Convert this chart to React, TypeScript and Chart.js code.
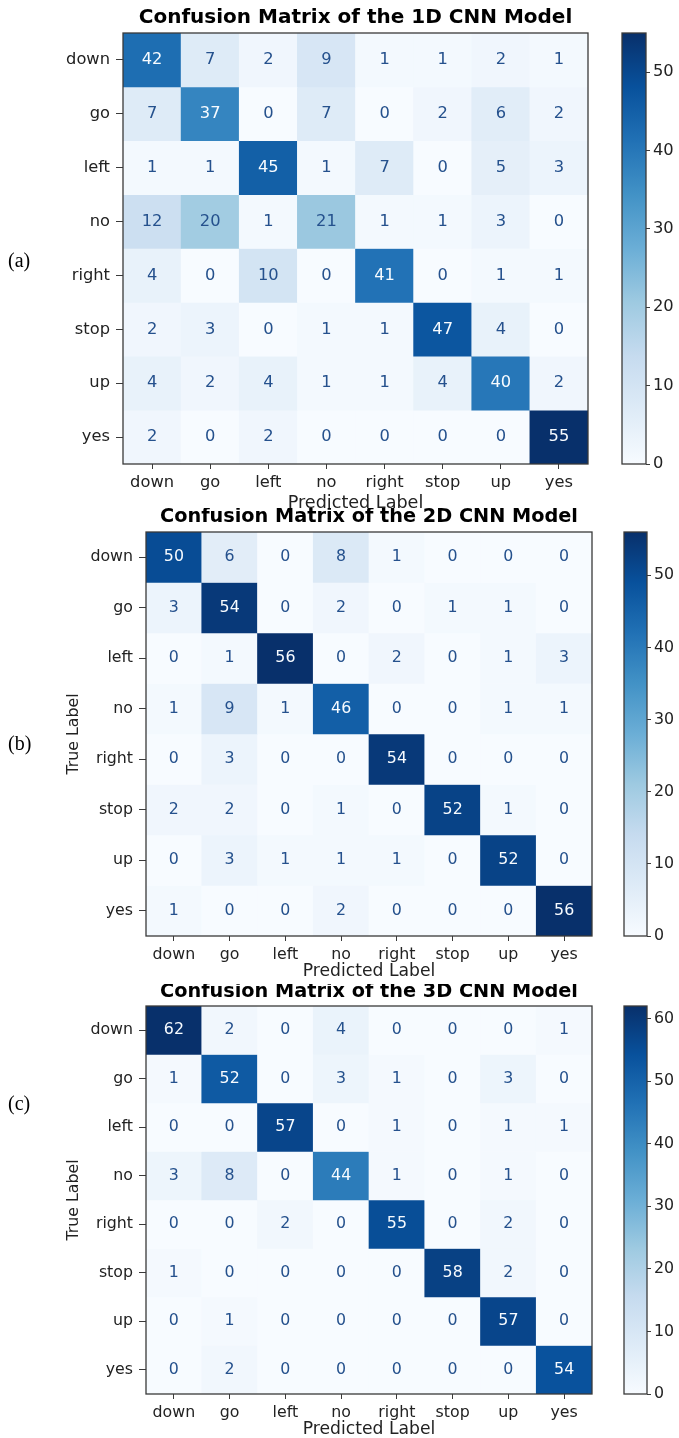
import React, { useEffect, useRef } from 'react';
import { Chart, registerables } from 'chart.js';

Chart.register(...registerables);

// ---------------- DATA ----------------
const predictedLabels = ['down', 'go', 'left', 'no', 'right', 'stop', 'up', 'yes'];
const trueLabels = ['down', 'go', 'left', 'no', 'right', 'stop', 'up', 'yes'];

const titles = [
  'Confusion Matrix of the 1D CNN Model',
  'Confusion Matrix of the 2D CNN Model',
  'Confusion Matrix of the 3D CNN Model',
];
const panelTags = ['(a)', '(b)', '(c)'];
const xAxisTitle = 'Predicted Label';
const yAxisTitle = 'True Label';

// rows = true label, columns = predicted label
const cm1D = [
  [42, 7, 2, 9, 1, 1, 2, 1],
  [7, 37, 0, 7, 0, 2, 6, 2],
  [1, 1, 45, 1, 7, 0, 5, 3],
  [12, 20, 1, 21, 1, 1, 3, 0],
  [4, 0, 10, 0, 41, 0, 1, 1],
  [2, 3, 0, 1, 1, 47, 4, 0],
  [4, 2, 4, 1, 1, 4, 40, 2],
  [2, 0, 2, 0, 0, 0, 0, 55],
];
const cm2D = [
  [50, 6, 0, 8, 1, 0, 0, 0],
  [3, 54, 0, 2, 0, 1, 1, 0],
  [0, 1, 56, 0, 2, 0, 1, 3],
  [1, 9, 1, 46, 0, 0, 1, 1],
  [0, 3, 0, 0, 54, 0, 0, 0],
  [2, 2, 0, 1, 0, 52, 1, 0],
  [0, 3, 1, 1, 1, 0, 52, 0],
  [1, 0, 0, 2, 0, 0, 0, 56],
];
const cm3D = [
  [62, 2, 0, 4, 0, 0, 0, 1],
  [1, 52, 0, 3, 1, 0, 3, 0],
  [0, 0, 57, 0, 1, 0, 1, 1],
  [3, 8, 0, 44, 1, 0, 1, 0],
  [0, 0, 2, 0, 55, 0, 2, 0],
  [1, 0, 0, 0, 0, 58, 2, 0],
  [0, 1, 0, 0, 0, 0, 57, 0],
  [0, 2, 0, 0, 0, 0, 0, 54],
];

const cbTicks1D = [0, 10, 20, 30, 40, 50];
const cbTicks2D = [0, 10, 20, 30, 40, 50];
const cbTicks3D = [0, 10, 20, 30, 40, 50, 60];

// matplotlib "Blues" colormap stops
const bluesStops = ['#f7fbff', '#deebf7', '#c6dbef', '#9ecae1', '#6baed6', '#4292c6', '#2171b5', '#08519c', '#08306b'];

// ---------------- LAYOUT / STYLE ----------------
const FONT = '"DejaVu Sans", Verdana, sans-serif';
const SERIF = '"Liberation Serif", "Times New Roman", serif';
const MATRIX_W = 600;
const CB_X = 600;
const Y_AXIS_W = 60;
const X_AXIS_H = 30;

const layouts = [
  { bandTop: 0, bandH: 508, L: 123, R: 588, T: 33, B: 464, cbL: 622, cbR: 646, titleY: 18, titleSize: 20,
    tickSize: 16.3, tagY: 262, predY: 503, predSize: 17.6, showTrue: false, trueX: 74 },
  { bandTop: 508, bandH: 476, L: 146, R: 592, T: 532, B: 936, cbL: 624, cbR: 647, titleY: 517, titleSize: 19.3,
    tickSize: 15.8, tagY: 745, predY: 972, predSize: 17.2, showTrue: true, trueX: 74 },
  { bandTop: 984, bandH: 454, L: 146, R: 592, T: 1006, B: 1394, cbL: 624, cbR: 647, titleY: 992, titleSize: 19.3,
    tickSize: 15.8, tagY: 1105, predY: 1430, predSize: 17.2, showTrue: true, trueX: 74 },
];
const matrices = [cm1D, cm2D, cm3D];
const cbTicks = [cbTicks1D, cbTicks2D, cbTicks3D];

function hexToRgb(h: string) {
  const n = parseInt(h.slice(1), 16);
  return [(n >> 16) & 255, (n >> 8) & 255, n & 255];
}
function blues(t: number) {
  const tt = Math.max(0, Math.min(1, t));
  const pos = tt * (bluesStops.length - 1);
  const i = Math.min(bluesStops.length - 2, Math.floor(pos));
  const f = pos - i;
  const a = hexToRgb(bluesStops[i]);
  const b = hexToRgb(bluesStops[i + 1]);
  const c = a.map((v, k) => Math.round(v + (b[k] - v) * f));
  return `rgb(${c[0]},${c[1]},${c[2]})`;
}

const TEXT_DARK = '#25518d';
const TEXT_LIGHT = '#f7fbff';
const AXIS_COLOR = '#222';
const FRAME_COLOR = '#3a3a3a';

function Panel({ idx }: { idx: number }) {
  const mRef = useRef<HTMLCanvasElement | null>(null);
  const cRef = useRef<HTMLCanvasElement | null>(null);
  const lay = layouts[idx];
  const matrix = matrices[idx];

  useEffect(() => {
    const maxV = Math.max(...matrix.flat());
    const minV = Math.min(...matrix.flat());
    const thresh = (maxV + minV) / 2;
    const top = lay.bandTop;

    const matrixPlugin = {
      id: 'matrixText' + idx,
      afterDatasetsDraw(chart: any) {
        const { ctx, chartArea } = chart;
        const xs = chart.scales.x;
        const ys = chart.scales.y;
        ctx.save();
        ctx.font = `${lay.tickSize}px ${FONT}`;
        ctx.textAlign = 'center';
        ctx.textBaseline = 'middle';
        matrix.forEach((row, r) => {
          row.forEach((v, c) => {
            ctx.fillStyle = v > thresh ? TEXT_LIGHT : TEXT_DARK;
            ctx.fillText(String(v), xs.getPixelForValue(c), ys.getPixelForValue(r + 0.5));
          });
        });
        ctx.strokeStyle = FRAME_COLOR;
        ctx.lineWidth = 1.3;
        ctx.strokeRect(chartArea.left, chartArea.top, chartArea.right - chartArea.left, chartArea.bottom - chartArea.top);
        ctx.restore();
      },
      afterDraw(chart: any) {
        const { ctx, chartArea } = chart;
        const cx = (chartArea.left + chartArea.right) / 2;
        ctx.save();
        ctx.textBaseline = 'middle';
        ctx.textAlign = 'center';
        ctx.fillStyle = '#000';
        ctx.font = `bold ${lay.titleSize}px ${FONT}`;
        ctx.fillText(titles[idx], cx, lay.titleY - top);
        ctx.fillStyle = AXIS_COLOR;
        ctx.font = `${lay.predSize}px ${FONT}`;
        ctx.fillText(xAxisTitle, cx, lay.predY - top);
        if (lay.showTrue) {
          ctx.save();
          ctx.translate(lay.trueX, (chartArea.top + chartArea.bottom) / 2);
          ctx.rotate(-Math.PI / 2);
          ctx.font = `${lay.tickSize}px ${FONT}`;
          ctx.fillText(yAxisTitle, 0, 0);
          ctx.restore();
        }
        ctx.fillStyle = '#000';
        ctx.textAlign = 'left';
        ctx.font = `20px ${SERIF}`;
        ctx.fillText(panelTags[idx], 8, lay.tagY - top);
        ctx.restore();
      },
    };

    const tickFont = { family: FONT, size: lay.tickSize };

    const chart = new Chart(mRef.current as HTMLCanvasElement, {
      type: 'bar',
      data: {
        labels: predictedLabels,
        datasets: trueLabels.map((lab, r) => ({
          label: lab,
          data: matrix[r].map(() => 1),
          backgroundColor: matrix[r].map((v) => blues((v - minV) / (maxV - minV))),
          borderWidth: 0,
          barPercentage: 1,
          categoryPercentage: 1,
        })),
      },
      options: {
        responsive: false,
        animation: false,
        devicePixelRatio: 1,
        events: [],
        layout: {
          padding: {
            left: lay.L - Y_AXIS_W,
            right: MATRIX_W - lay.R,
            top: lay.T - top,
            bottom: lay.bandH - (lay.B - top) - X_AXIS_H,
          },
        },
        plugins: { legend: { display: false }, tooltip: { enabled: false }, title: { display: false } },
        scales: {
          x: {
            type: 'category',
            stacked: true,
            offset: true,
            afterFit: (s: any) => { s.height = X_AXIS_H; },
            grid: { display: true, offset: false, drawOnChartArea: false, drawTicks: true, tickLength: 5, color: FRAME_COLOR, lineWidth: 1 },
            border: { display: false },
            ticks: { font: tickFont, color: AXIS_COLOR, padding: 4, maxRotation: 0, autoSkip: false },
          },
          y: {
            type: 'linear',
            stacked: true,
            reverse: true,
            min: 0,
            max: trueLabels.length,
            afterFit: (s: any) => { s.width = Y_AXIS_W; },
            afterBuildTicks: (s: any) => { s.ticks = trueLabels.map((_, i) => ({ value: i + 0.5 })); },
            grid: { display: true, drawOnChartArea: false, drawTicks: true, tickLength: 7, color: FRAME_COLOR, lineWidth: 1 },
            border: { display: false },
            ticks: {
              font: tickFont,
              color: AXIS_COLOR,
              padding: 6,
              autoSkip: false,
              callback: (_v: any, i: number) => trueLabels[i],
            },
          },
        },
      },
      plugins: [matrixPlugin],
    } as any);

    const cbPlugin = {
      id: 'cbFrame' + idx,
      afterDatasetsDraw(c: any) {
        const { ctx, chartArea } = c;
        ctx.save();
        ctx.strokeStyle = FRAME_COLOR;
        ctx.lineWidth = 1.3;
        ctx.strokeRect(chartArea.left, chartArea.top, chartArea.right - chartArea.left, chartArea.bottom - chartArea.top);
        ctx.restore();
      },
    };

    const cb = new Chart(cRef.current as HTMLCanvasElement, {
      type: 'bar',
      data: {
        labels: ['scale'],
        datasets: [{
          data: [maxV],
          borderWidth: 0,
          barPercentage: 1,
          categoryPercentage: 1,
          backgroundColor: (context: any) => {
            const ca = context.chart.chartArea;
            if (!ca) return bluesStops[4];
            const g = context.chart.ctx.createLinearGradient(0, ca.bottom, 0, ca.top);
            bluesStops.forEach((s, i) => g.addColorStop(i / (bluesStops.length - 1), s));
            return g;
          },
        }],
      },
      options: {
        responsive: false,
        animation: false,
        devicePixelRatio: 1,
        events: [],
        layout: {
          padding: {
            left: lay.cbL - CB_X,
            right: 0,
            top: lay.T - top,
            bottom: lay.bandH - (lay.B - top),
          },
        },
        plugins: { legend: { display: false }, tooltip: { enabled: false } },
        scales: {
          x: { display: false },
          y: {
            position: 'right',
            min: minV,
            max: maxV,
            afterFit: (s: any) => { s.width = 679 - lay.cbR; },
            afterBuildTicks: (s: any) => { s.ticks = cbTicks[idx].map((v) => ({ value: v })); },
            grid: { display: true, drawOnChartArea: false, drawTicks: true, tickLength: 4, color: FRAME_COLOR },
            border: { display: false },
            ticks: { font: tickFont, color: AXIS_COLOR, padding: 3, autoSkip: false },
          },
        },
      },
      plugins: [cbPlugin],
    } as any);

    return () => {
      chart.destroy();
      cb.destroy();
    };
  }, []);

  return (
    <div style={{ position: 'absolute', left: 0, top: lay.bandTop, width: 679, height: lay.bandH, background: '#fff', overflow: 'hidden' }}>
      <canvas ref={mRef} width={MATRIX_W} height={lay.bandH}
        style={{ position: 'absolute', left: 0, top: 0, width: MATRIX_W, height: lay.bandH }} />
      <canvas ref={cRef} width={679 - CB_X} height={lay.bandH}
        style={{ position: 'absolute', left: CB_X, top: 0, width: 679 - CB_X, height: lay.bandH }} />
    </div>
  );
}

export default function App() {
  return (
    <div style={{ position: 'absolute', left: 0, top: 0, width: 679, height: 1438, background: '#fff', overflow: 'hidden' }}>
      <Panel idx={0} />
      <Panel idx={1} />
      <Panel idx={2} />
    </div>
  );
}
